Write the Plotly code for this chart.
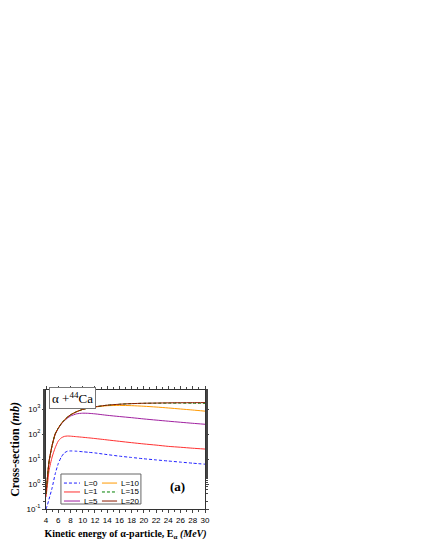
"""Alpha + 44Ca partial cross sections."""
import plotly.graph_objects as go

energy = [4, 4.25, 4.5, 5, 5.5, 6, 6.5, 7, 7.5, 8, 9, 10, 11, 12, 14, 16, 18, 20, 22, 24, 26, 28, 30]

sigma_L0 = [0.1, 0.15, 0.25, 0.7, 2.5, 6.5, 12, 17.5, 20.5, 21, 20.5, 19.5, 18.5, 17.5, 15, 13, 11.5, 10.2, 9.2, 8.3, 7.5, 6.8, 6.2]
sigma_L1 = [0.3, 1.0, 3.5, 12, 28, 52, 70, 80, 83, 82, 78, 74, 70, 66, 58, 51, 45, 40, 36, 32, 29.5, 27, 25]
sigma_L5 = [0.4, 2.0, 8, 35, 95, 165, 250, 340, 430, 520, 640, 680, 670, 640, 560, 500, 450, 400, 360, 325, 295, 268, 245]
sigma_L10 = [0.4, 2.0, 8, 35, 100, 170, 260, 360, 470, 580, 780, 960, 1100, 1200, 1350, 1390, 1360, 1290, 1200, 1100, 1000, 910, 820]
sigma_L15 = [0.4, 2.0, 8, 35, 100, 170, 260, 360, 470, 580, 780, 960, 1100, 1220, 1420, 1550, 1640, 1690, 1710, 1720, 1720, 1710, 1690]
sigma_L20 = [0.4, 2.0, 8, 35, 100, 170, 260, 360, 470, 580, 780, 960, 1100, 1220, 1420, 1550, 1640, 1700, 1730, 1760, 1780, 1790, 1800]

# name, values, colour, dash
series = [
    ("L=0", sigma_L0, "#2020ff", "3px,2px"),
    ("L=1", sigma_L1, "#ff3030", "solid"),
    ("L=5", sigma_L5, "#a020a0", "solid"),
    ("L=10", sigma_L10, "#ff9900", "solid"),
    ("L=15", sigma_L15, "#008000", "3px,2px"),
    ("L=20", sigma_L20, "#8b1a00", "solid"),
]

y_tickvals = [0.1, 1, 10, 100, 1000]
y_ticktext = ["10<sup>-1</sup>", "10<sup>0</sup>", "10<sup>1</sup>", "10<sup>2</sup>", "10<sup>3</sup>"]
x_tickvals = list(range(4, 31, 2))

fig = go.Figure()
for name, vals, color, dash in series:
    fig.add_trace(go.Scatter(x=energy, y=vals, name=name, mode="lines", showlegend=False,
                             line=dict(color=color, dash=dash, width=1, shape="spline", smoothing=0.6)))

# page body adds an 8px offset, so margins are shifted by that much
fig.update_layout(
    width=425, height=550,
    margin=dict(l=38, r=228, t=382, b=49),
    paper_bgcolor="white", plot_bgcolor="white",
    font=dict(family="Liberation Sans, Arial", size=8, color="black"),
    showlegend=False,
)

# two-column legend in a frame (plotly's legend rows are too tall for this box)
fig.add_shape(type="rect", xref="paper", yref="paper", x0=0.094, x1=0.597, y0=0.042, y1=0.294,
              line=dict(color="#666666", width=1), fillcolor="white", layer="above")
row_y = [0.218, 0.143, 0.067]
col_x = [(0.113, 0.214, 0.226), (0.352, 0.447, 0.459)]
for i, (name, vals, color, dash) in enumerate(series):
    x0, x1, xt = col_x[i // 3]
    y = row_y[i % 3]
    fig.add_shape(type="line", xref="paper", yref="paper", x0=x0, x1=x1, y0=y, y1=y,
                  line=dict(color=color, dash=dash, width=1), layer="above")
    fig.add_annotation(xref="paper", yref="paper", x=xt, y=y, xanchor="left", yanchor="middle",
                       text=name, showarrow=False, font=dict(size=8))

fig.update_xaxes(range=[4, 30], tickvals=x_tickvals, ticks="outside", ticklen=3, automargin=False,
                 showline=True, linecolor="#333333", linewidth=1, mirror="allticks",
                 showgrid=False, zeroline=False, tickfont=dict(size=8),
                 minor=dict(ticks="outside", ticklen=2, dtick=1, showgrid=False),
                 title=dict(text="<b>Kinetic energy of α-particle, E<sub>α</sub> <i>(MeV)</i></b>",
                            font=dict(family="Liberation Serif, Times New Roman", size=10), standoff=6))
fig.update_yaxes(type="log", range=[-1, 3.76], tickvals=y_tickvals, ticktext=y_ticktext,
                 ticks="outside", ticklen=3, automargin=False,
                 showline=True, linecolor="#333333", linewidth=1, mirror="ticks",
                 showgrid=False, zeroline=False, tickfont=dict(size=8),
                 minor=dict(ticks="outside", ticklen=2, showgrid=False),
                 title=dict(text="<b>Cross-section <i>(mb)</i></b>",
                            font=dict(family="Liberation Serif, Times New Roman", size=12), standoff=4))

fig.add_annotation(xref="paper", yref="paper", x=0.02, y=1.025, xanchor="left", yanchor="top",
                   text="α +<sup>44</sup>Ca", showarrow=False,
                   font=dict(family="Liberation Serif, Times New Roman", size=13),
                   bgcolor="white", bordercolor="#777777", borderwidth=1, borderpad=2)
fig.add_annotation(xref="paper", yref="paper", x=0.824, y=0.193, xanchor="center", yanchor="middle",
                   text="<b>(a)</b>", showarrow=False,
                   font=dict(family="Liberation Serif, Times New Roman", size=13))

fig.write_html("out.html")
